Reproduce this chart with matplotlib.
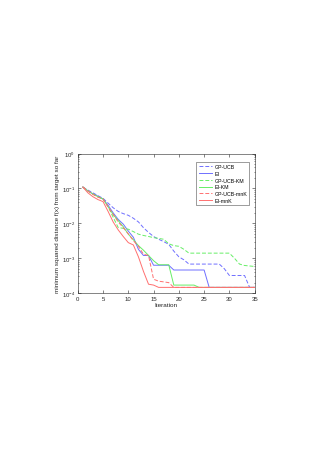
import matplotlib
matplotlib.use("Agg")
import matplotlib.pyplot as plt
from matplotlib.ticker import LogLocator, NullFormatter

iterations = list(range(1, 36))

gp_ucb = [0.11, 0.09, 0.075, 0.062, 0.052, 0.038, 0.028, 0.022, 0.019, 0.017,
          0.014, 0.011, 0.0075, 0.0055, 0.0042, 0.0035, 0.003, 0.0025, 0.0016, 0.0011,
          0.0009, 0.00068, 0.00068, 0.00068, 0.00068, 0.00068, 0.00068, 0.00068, 0.0005, 0.00032,
          0.00032, 0.00032, 0.00032, 0.000146, 0.000146]
ei = [0.11, 0.085, 0.07, 0.06, 0.05, 0.033, 0.02, 0.013, 0.0095, 0.006,
      0.004, 0.0018, 0.0012, 0.0012, 0.00063, 0.00063, 0.00063, 0.00063, 0.00046, 0.00046,
      0.00046, 0.00046, 0.00046, 0.00046, 0.00046, 0.000146, 0.000146, 0.000146, 0.000146, 0.000146,
      0.000146, 0.000146, 0.000146, 0.000146, 0.000146]
gp_ucb_km = [0.11, 0.085, 0.068, 0.058, 0.05, 0.03, 0.015, 0.0076, 0.0072, 0.0068,
             0.0058, 0.0049, 0.0045, 0.0042, 0.0039, 0.0037, 0.0035, 0.0026, 0.0023, 0.0022,
             0.0018, 0.0014, 0.0014, 0.0014, 0.0014, 0.0014, 0.0014, 0.0014, 0.0014, 0.0014,
             0.001, 0.00068, 0.00062, 0.0006, 0.00058]
ei_km = [0.11, 0.085, 0.07, 0.058, 0.05, 0.03, 0.018, 0.012, 0.008, 0.0049,
         0.0034, 0.0023, 0.0017, 0.0012, 0.00085, 0.00065, 0.00065, 0.00065, 0.00017, 0.00017,
         0.00017, 0.00017, 0.00017, 0.000146, 0.000146, 0.000146, 0.000146, 0.000146, 0.000146, 0.000146,
         0.000146, 0.000146, 0.000146, 0.000146, 0.000146]
gp_ucb_mnk = [0.11, 0.085, 0.068, 0.056, 0.05, 0.03, 0.018, 0.011, 0.0075, 0.005,
              0.0032, 0.0022, 0.0013, 0.0012, 0.00025, 0.00022, 0.00021, 0.0002, 0.000146, 0.000146,
              0.000146, 0.000146, 0.000146, 0.000146, 0.000146, 0.000146, 0.000146, 0.000146, 0.000146, 0.000146,
              0.000146, 0.000146, 0.000146, 0.000146, 0.000146]
ei_mnk = [0.11, 0.075, 0.058, 0.048, 0.042, 0.022, 0.011, 0.0065, 0.0042, 0.0028,
          0.0024, 0.0011, 0.00042, 0.00018, 0.00017, 0.000146, 0.000146, 0.000146, 0.000146, 0.000146,
          0.000146, 0.000146, 0.000146, 0.000146, 0.000146, 0.000146, 0.000146, 0.000146, 0.000146, 0.000146,
          0.000146, 0.000146, 0.000146, 0.000146, 0.000146]

series_labels = ["GP-UCB", "EI", "GP-UCB-KM", "EI-KM", "GP-UCB-mnK", "EI-mnK"]
series_values = [gp_ucb, ei, gp_ucb_km, ei_km, gp_ucb_mnk, ei_mnk]
colors = ["#6f6fff", "#6f6fff", "#66ee66", "#66ee66", "#ff7070", "#ff7070"]
styles = ["--", "-", "--", "-", "--", "-"]

x_ticks = [0, 5, 10, 15, 20, 25, 30, 35]

plt.rcParams['font.family'] = ['Liberation Sans', 'DejaVu Sans']
fig = plt.figure(figsize=(3.24, 4.56), dpi=100)
ax = fig.add_axes([0.240, 0.355, 0.546, 0.306])

for vals, lab, c, ls in zip(series_values, series_labels, colors, styles):
    line, = ax.plot(iterations, vals, color=c, linestyle=ls, linewidth=0.7, label=lab)
    if ls == "--":
        line.set_dashes((4, 2))

ax.set_yscale("log")
ax.set_xlim(0, 35)
ax.set_ylim(1e-4, 1e0)
ax.set_xticks(x_ticks)
ax.yaxis.set_major_locator(LogLocator(base=10, numticks=10))
ax.yaxis.set_minor_locator(LogLocator(base=10, subs=range(2, 10), numticks=10))
ax.yaxis.set_minor_formatter(NullFormatter())
ax.tick_params(which="both", direction="in", top=True, right=True,
               labelsize=4.3, colors="#262626", width=0.4, pad=2)
ax.tick_params(which="major", length=2)
ax.tick_params(which="minor", length=1)
for s in ax.spines.values():
    s.set_linewidth(0.4)
    s.set_color("#262626")

ax.set_xlabel("Iteration", fontsize=4.6, color="#262626", labelpad=1)
ax.set_ylabel("minimum squared distance f(x) from target so far", fontsize=4.6,
              color="#262626", labelpad=1)

leg = ax.legend(loc="upper right", fontsize=3.8, frameon=True, fancybox=False,
                handlelength=2.6, borderpad=0.4, labelspacing=0.35,
                handletextpad=0.4, bbox_to_anchor=(0.985, 0.96))
leg.get_frame().set_linewidth(0.4)
leg.get_frame().set_edgecolor("#262626")

fig.savefig("out.png", dpi=100)
